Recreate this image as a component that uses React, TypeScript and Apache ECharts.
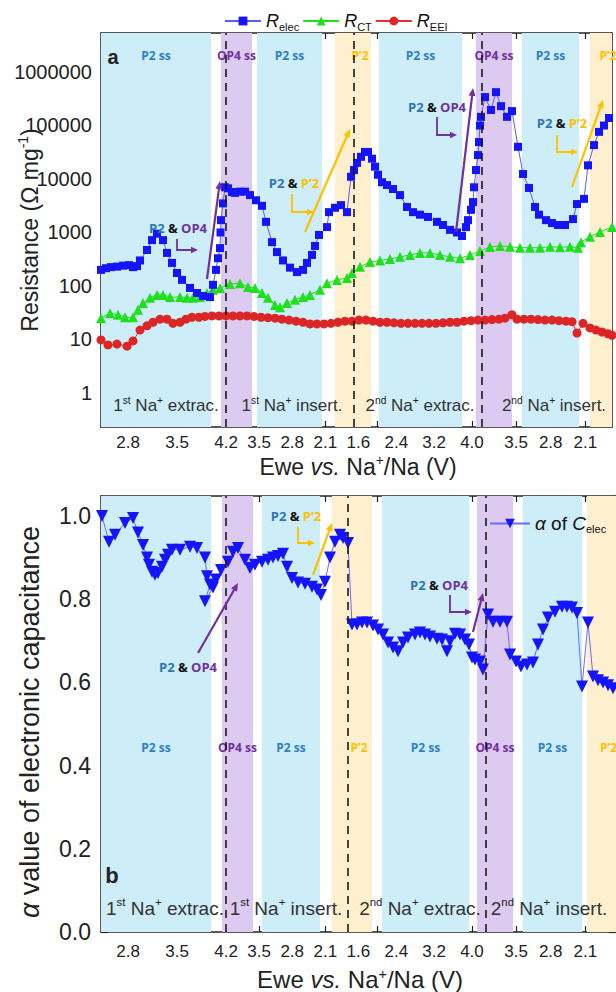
import React, { useEffect, useRef } from 'react';
import * as echarts from 'echarts';

const FONT = 'Arial, "Liberation Sans", Helvetica, sans-serif';
const BOLD_FONT = '"Open Sans", "Noto Sans", Arial, sans-serif';
const AXIS = '#222';

// ---------- x axis: four voltage sweeps laid end to end ----------
const segStartV = [2.414, 4.2, 1.5, 4.2];
const segScale = [70, 47.3, 47.3, 49.5];
const segOffset = [0, 125, 252.7, 380.4];
const toU = (seg: number, v: number) => segOffset[seg] + Math.abs(v - segStartV[seg]) * segScale[seg];

const tickVolts: [number, number][] = [
  [0, 2.45], [0, 2.8], [0, 3.15], [0, 3.5], [0, 3.85], [0, 4.2],
  [1, 3.85], [1, 3.5], [1, 3.15], [1, 2.8], [1, 2.45], [1, 2.1], [1, 1.75],
  [2, 1.6], [2, 2.0], [2, 2.4], [2, 2.8], [2, 3.2], [2, 3.6], [2, 4.0],
  [3, 3.85], [3, 3.5], [3, 3.15], [3, 2.8], [3, 2.45], [3, 2.1], [3, 1.75],
];
const labelVolts: [number, number][] = [
  [0, 2.8], [0, 3.5], [0, 4.2], [1, 3.5], [1, 2.8], [1, 2.1],
  [2, 1.6], [2, 2.4], [2, 3.2], [2, 4.0], [3, 3.5], [3, 2.8], [3, 2.1],
];

// ---------- panel a : resistances (progress units, Ω mg-1) ----------
const relecX = [0,5,10,16,22,28,32,36,39,46,51,56,62,66,71,76,81,89,96,102,109,112,115,117,119,119.5,120,122,124,127,131,134,139,144,149,155,161,165,171,176,182,189,196,202,206,211,214,218,226,228,234,240,246,250,253,256,260,264,267,271,274,277,281,286,292,299,306,312,319,327,336,342,349,356,361,365,367,370,372,373,375,377,378,379,380,384,390,395,400,406,411,417,422,428,434,438,445,451,457,464,472,476,483,487,493,498,503,508];
const relecY = [200,215,225,230,240,245,225,235,300,470,720,950,720,415,270,175,130,92,74,65,62,105,200,330,510,1000,1700,3500,7000,6700,5700,5500,5800,5800,5000,4000,3150,1580,660,430,300,220,182,200,270,380,560,900,1260,2400,2900,3250,2400,11000,14700,20000,26000,32000,32000,24000,17000,12000,8700,7700,6500,5000,3000,2400,2150,1950,1580,1380,1120,1000,860,1260,1700,2650,3700,7000,14700,28000,49000,100000,145000,340000,195000,420000,230000,145000,186000,40000,12400,6800,3000,2150,1700,1500,1380,1380,1780,3400,4250,18000,43000,76000,100000,138000];

const rctX = [0,9,17,24,32,37,42,49,56,62,69,79,86,92,99,106,112,119,129,139,147,154,161,167,174,179,186,194,202,209,219,226,236,246,251,259,269,279,289,299,309,319,329,339,349,359,369,379,389,399,409,419,429,439,449,459,469,477,480,489,499,511];
const rctY = [25,31,29,26,26,36,48,60,68,68,62,62,60,60,62,74,85,92,109,113,96,92,74,60,44,40,48,55,62,68,85,113,130,141,175,228,280,300,318,350,380,415,415,380,350,330,380,450,535,560,540,520,520,520,540,530,540,520,660,830,1020,1260];

const reeiX = [0,7,16,26,32,39,46,52,59,66,72,79,85,91,98,104,111,118,125,132,139,146,153,160,167,174,181,188,195,202,209,216,223,230,237,244,251,258,265,272,279,286,293,300,307,314,321,328,335,342,349,356,363,370,377,384,391,398,404,411,416,423,430,437,444,451,458,465,471,476,482,489,495,501,507,511];
const reeiY = [9.8,7.9,8.2,7.5,9.4,15,18,21,24,24,20,21,24,26,26,27,27.5,27.5,27.5,27.5,27.5,27.5,27,26,25.5,25,24,23,22,21,19.5,19.5,19.5,20,21,22,22,23,23,22,21,21,20.5,20,20,20,20,20,20,20.5,21,21,22,22.5,23,23,23.5,24,25,29,24,24,24,23.5,23,23,22.5,22,21.5,13.2,20,16.4,15,13.8,12.8,12];

// ---------- panel b : alpha of C_elec ----------
const alphaX = [1,8,14,24,32,37,42,46,48,51,54,57,61,64,67,71,79,89,96,104,106,109,104,112,115,120,127,132,137,144,149,154,161,167,172,177,182,186,191,197,204,211,216,220,224,229,234,239,242,247,251,256,261,266,272,277,282,287,292,297,302,307,314,319,324,329,336,341,346,349,354,359,364,368,371,374,379,382,387,392,399,406,409,415,420,426,432,437,442,447,454,461,466,471,476,481,487,492,497,502,507,512];
const alphaY = [1.0,0.938,0.955,0.983,0.995,0.96,0.93,0.90,0.883,0.866,0.859,0.863,0.878,0.895,0.907,0.919,0.919,0.926,0.923,0.90,0.855,0.835,0.795,0.828,0.847,0.87,0.89,0.914,0.923,0.895,0.875,0.883,0.89,0.895,0.90,0.904,0.909,0.878,0.851,0.84,0.837,0.83,0.823,0.81,0.842,0.90,0.938,0.955,0.947,0.935,0.739,0.739,0.744,0.744,0.737,0.727,0.715,0.696,0.684,0.675,0.696,0.708,0.715,0.72,0.715,0.71,0.705,0.703,0.675,0.699,0.717,0.715,0.703,0.691,0.66,0.655,0.65,0.631,0.763,0.746,0.746,0.746,0.667,0.65,0.638,0.643,0.648,0.691,0.727,0.756,0.77,0.782,0.782,0.78,0.767,0.59,0.744,0.614,0.605,0.60,0.593,0.586];

// ---------- tick values ----------
const resistanceTicks = [1, 10, 100, 1000, 10000, 100000, 1000000];
const alphaTicks = [0, 0.1, 0.2, 0.3, 0.4, 0.5, 0.6, 0.7, 0.8, 0.9, 1.0];
const alphaLabels = [0, 0.2, 0.4, 0.6, 0.8, 1.0];

// ---------- phase bands ----------
const bandKinds = ['P2', 'OP4', 'P2', 'P2p', 'P2', 'OP4', 'P2', 'P2p'];
const bandStartTop = [0, 120, 156, 234, 278, 375, 421, 489];
const bandEndTop = [110, 151, 221, 270, 361, 411, 478, 511];
const bandStartBot = [0, 121, 161, 231, 281, 376, 422, 486];
const bandEndBot = [110, 152, 219, 271, 368, 412, 481, 515];
const dashTop = [toU(0, 4.2), toU(1, 1.5), toU(2, 4.2)];
const dashBot = [125, 247, 385];

const BAND_COLOR: Record<string, string> = { P2: '#cdedf9', OP4: '#ddcaf1', P2p: '#fef0cf' };
const BAND_TEXT: Record<string, string> = { P2: 'P2 ss', OP4: 'OP4 ss', P2p: 'P\u20192' };
const BAND_TEXT_COLOR: Record<string, string> = { P2: '#2e7fc8', OP4: '#7030a0', P2p: '#ffc000' };

const BLUE_T = '#2e75b6';
const PURPLE = '#7030a0';
const ORANGE = '#ffc000';

function buildOption() {
  const tickU = tickVolts.map(([s, v]) => toU(s, v));
  const labelU = labelVolts.map(([s, v]) => toU(s, v));
  const fmtX = (val: number) => {
    const i = labelU.findIndex((u) => Math.abs(u - val) < 0.01);
    return i >= 0 ? labelVolts[i][1].toFixed(1) : '';
  };
  const minorLog: number[] = [];
  for (let k = -1; k <= 6; k++) for (let m = 1; m <= 9; m++) {
    const v = m * Math.pow(10, k);
    if (v >= 0.24 && v <= 5.3e6) minorLog.push(v);
  }

  const xAx = (grid: number, max: number, pos: string, labels: boolean, margin: number) => ({
    type: 'value', gridIndex: grid, min: 0, max, position: pos,
    axisLine: { show: true, onZero: false, lineStyle: { color: AXIS, width: 1.5 } },
    axisTick: { show: true, inside: true, length: 6, customValues: tickU, lineStyle: { color: AXIS, width: 1.2 } },
    axisLabel: labels
      ? { show: true, customValues: labelU, formatter: fmtX, fontSize: 17, lineHeight: 18, color: '#222', fontFamily: FONT, margin }
      : { show: false },
    splitLine: { show: false },
  });

  const bandData = (starts: number[], ends: number[], dist: number) =>
    bandKinds.map((k, i) => [
      {
        xAxis: starts[i],
        itemStyle: { color: BAND_COLOR[k] },
        label: {
          show: true, position: 'insideTop', distance: dist, formatter: BAND_TEXT[k],
          color: BAND_TEXT_COLOR[k], fontSize: 12, fontWeight: 'bold', fontFamily: BOLD_FONT,
          offset: [k === 'P2p' ? 7 : 0, 0],
        },
      },
      { xAxis: ends[i] },
    ]);

  const dashLine = (vals: number[]) => ({
    silent: true, symbol: 'none', label: { show: false },
    lineStyle: { type: [8, 6], color: '#1a1a1a', width: 1.6 },
    data: vals.map((u) => ({ xAxis: u })),
  });

  // ---------- graphic helpers ----------
  const rt = (size: number, extra: any = {}) => ({ fontSize: size, fontFamily: FONT, fill: '#222', lineHeight: Math.round(size * 1.2), ...extra });
  const sup = (size: number) => rt(size * 0.6, { verticalAlign: 'top', lineHeight: Math.round(size * 0.55) });
  const text = (x: number, y: number, t: string, rich: any, rotation = 0) => ({
    type: 'text', x, y, rotation, z: 50,
    style: { text: t, rich, align: 'center', verticalAlign: 'middle', textAlign: 'center', textVerticalAlign: 'middle' },
  });
  const phase = (x: number, y: number, ord: string, suf: string, word: string, size: number) =>
    text(x, y, `{n|${ord}}{u|${suf}}{n| Na}{u|+}{n| ${word}}`, { n: rt(size, { fill: '#333' }), u: sup(size) });

  const annRich = {
    b: rt(13, { fontFamily: BOLD_FONT, fontWeight: 'bold', fill: BLUE_T }),
    k: rt(13, { fontFamily: BOLD_FONT, fontWeight: 'bold', fill: '#111' }),
    p: rt(13, { fontFamily: BOLD_FONT, fontWeight: 'bold', fill: PURPLE }),
    o: rt(13, { fontFamily: BOLD_FONT, fontWeight: 'bold', fill: ORANGE }),
  };
  const ann = (x: number, y: number, second: 'p' | 'o') =>
    text(x, y, second === 'p' ? '{b|P2 }{k|& }{p|OP4}' : '{b|P2 }{k|& }{o|P\u20192}', annRich);

  const head = (x1: number, y1: number, x2: number, y2: number, color: string, L = 8, W = 3.5) => {
    const dx = x2 - x1, dy = y2 - y1, len = Math.hypot(dx, dy);
    const ux = dx / len, uy = dy / len;
    const bx = x2 - ux * L, by = y2 - uy * L;
    return {
      type: 'polygon', z: 50,
      shape: { points: [[x2, y2], [bx - uy * W, by + ux * W], [bx + uy * W, by - ux * W]] },
      style: { fill: color },
    };
  };
  const arrow = (x1: number, y1: number, x2: number, y2: number, color: string, w = 2.2) => {
    const len = Math.hypot(x2 - x1, y2 - y1);
    const ex = x2 - ((x2 - x1) / len) * 6, ey = y2 - ((y2 - y1) / len) * 6;
    return [
      { type: 'line', z: 50, shape: { x1, y1, x2: ex, y2: ey }, style: { stroke: color, lineWidth: w } },
      head(x1, y1, x2, y2, color),
    ];
  };
  const elbow = (x: number, y1: number, y2: number, x2: number, color: string) => [
    { type: 'polyline', z: 50, shape: { points: [[x, y1], [x, y2], [x2 - 5, y2]] }, style: { stroke: color, lineWidth: 1.8, fill: null } },
    head(x, y2, x2, y2, color, 7, 3.2),
  ];

  const graphics: any[] = [
    { type: 'text', x: 113, y: 57, z: 50, style: { text: 'a', fontSize: 20, fontWeight: 'bold', fontFamily: FONT, fill: '#222', align: 'center', verticalAlign: 'middle', textAlign: 'center', textVerticalAlign: 'middle' } },
    { type: 'text', x: 112, y: 875, z: 50, style: { text: 'b', fontSize: 22, fontWeight: 'bold', fontFamily: FONT, fill: '#222', align: 'center', verticalAlign: 'middle', textAlign: 'center', textVerticalAlign: 'middle' } },
    text(30, 230, '{t|Resistance (\u03A9 mg}{u|-1}{t|)}', { t: rt(23), u: sup(23) }, Math.PI / 2),
    text(30, 722, '{i|\u03B1}{t| value of electronic capacitance}', { t: rt(27), i: rt(27, { fontStyle: 'italic' }) }, Math.PI / 2),
    text(358, 467, '{t|Ewe }{i|vs.}{t| Na}{u|+}{t|/Na (V)}', { t: rt(23), i: rt(23, { fontStyle: 'italic' }), u: sup(23) }),
    text(360, 979, '{t|Ewe }{i|vs.}{t| Na}{u|+}{t|/Na (V)}', { t: rt(24, { lineHeight: 24 }), i: rt(24, { fontStyle: 'italic', lineHeight: 24 }), u: sup(24) }),
    phase(166, 405, '1', 'st', 'extrac.', 17),
    phase(292, 405, '1', 'st', 'insert.', 17),
    phase(420, 405, '2', 'nd', 'extrac.', 17),
    phase(554, 405, '2', 'nd', 'insert.', 17),
    phase(165, 908, '1', 'st', 'extrac.', 19),
    phase(286, 908, '1', 'st', 'insert.', 19),
    phase(420, 908, '2', 'nd', 'extrac.', 19),
    phase(549, 908, '2', 'nd', 'insert.', 19),
    // panel a annotations
    ann(178, 228, 'p'), ...elbow(177, 239, 250, 198, PURPLE), ...arrow(207, 279, 220, 181, PURPLE),
    ann(294, 183, 'o'), ...elbow(292, 194, 212, 314, ORANGE), ...arrow(305, 232, 350, 129, ORANGE),
    ann(437, 107, 'p'), ...elbow(437, 117, 135, 457, PURPLE), ...arrow(456, 232, 473, 88, PURPLE),
    ann(562, 123, 'o'), ...elbow(557, 135, 152, 578, ORANGE), ...arrow(572, 187, 603, 100, ORANGE),
    // panel b annotations
    ann(188, 667, 'p'), ...arrow(198, 653, 238, 583, PURPLE),
    ann(296, 516, 'o'), ...elbow(298, 527, 543, 315, ORANGE), ...arrow(313, 575, 332, 523, ORANGE),
    ann(439, 585, 'p'), ...elbow(450, 595, 612, 472, PURPLE), ...arrow(473, 632, 483, 593, PURPLE),
  ];

  const legendRich = {
    i: { fontStyle: 'italic', fontSize: 18, fontFamily: FONT, color: '#111', lineHeight: 22 },
    t: { fontSize: 19, fontFamily: FONT, color: '#111', lineHeight: 22 },
    s: { fontSize: 11, fontFamily: FONT, color: '#111', verticalAlign: 'bottom', lineHeight: 11 },
  };
  const legendText: Record<string, string> = {
    Relec: '{i|R}{s|elec}', RCT: '{i|R}{s|CT}', REEI: '{i|R}{s|EEI}', alpha: '{i|\u03B1}{t| of }{i|C}{s|elec}',
  };

  return {
    animation: false,
    backgroundColor: '#ffffff',
    textStyle: { fontFamily: FONT },
    grid: [
      { left: 101, top: 33, width: 511, height: 394, outerBoundsMode: 'none', containLabel: false },
      { left: 101, top: 496, width: 515, height: 436, outerBoundsMode: 'none', containLabel: false },
    ],
    legend: [
      {
        data: ['Relec', 'RCT', 'REEI'], left: 219, top: 7, itemWidth: 36, itemHeight: 11, itemGap: 3,
        selectedMode: false, formatter: (n: string) => legendText[n], textStyle: { rich: legendRich },
      },
      {
        data: ['alpha'], left: 484, top: 509, itemWidth: 40, itemHeight: 12, itemGap: 4,
        selectedMode: false, formatter: (n: string) => legendText[n],
        textStyle: { rich: { ...legendRich, i: { ...legendRich.i, fontSize: 19 } } },
      },
    ],
    xAxis: [
      xAx(0, 511, 'bottom', true, 6),
      xAx(0, 511, 'top', false, 0),
      xAx(1, 515, 'bottom', true, 10),
      xAx(1, 515, 'top', false, 0),
    ],
    yAxis: [
      {
        type: 'log', logBase: 10, gridIndex: 0, min: 0.231, max: 5.36e6, position: 'left',
        axisLine: { show: true, onZero: false, lineStyle: { color: AXIS, width: 1.5 } },
        axisTick: { show: true, inside: true, length: 7, customValues: resistanceTicks, lineStyle: { color: AXIS, width: 1.2 } },
        axisLabel: { customValues: resistanceTicks, formatter: (v: number) => String(Math.round(v)), fontSize: 20, color: '#222', fontFamily: FONT, margin: 9 },
        splitLine: { show: false },
      },
      {
        type: 'log', logBase: 10, gridIndex: 0, min: 0.231, max: 5.36e6, position: 'right',
        axisLine: { show: true, onZero: false, lineStyle: { color: AXIS, width: 1.5 } },
        axisTick: { show: true, inside: true, length: 5, customValues: minorLog, lineStyle: { color: AXIS, width: 1 } },
        axisLabel: { show: false },
        splitLine: { show: false },
      },
      {
        type: 'value', gridIndex: 1, min: 0, max: 1.048, position: 'left',
        axisLine: { show: true, onZero: false, lineStyle: { color: AXIS, width: 1.5 } },
        axisTick: { show: true, inside: true, length: 7, customValues: alphaTicks, lineStyle: { color: AXIS, width: 1.2 } },
        axisLabel: { customValues: alphaLabels, formatter: (v: number) => v.toFixed(1), fontSize: 23, color: '#222', fontFamily: FONT, margin: 10 },
        splitLine: { show: false },
      },
      {
        type: 'value', gridIndex: 1, min: 0, max: 1.048, position: 'right',
        axisLine: { show: true, onZero: false, lineStyle: { color: AXIS, width: 1.5 } },
        axisTick: { show: true, inside: true, length: 7, customValues: alphaTicks, lineStyle: { color: AXIS, width: 1.2 } },
        axisLabel: { show: false },
        splitLine: { show: false },
      },
    ],
    series: [
      {
        type: 'line', xAxisIndex: 0, yAxisIndex: 0, data: [], z: 1,
        markArea: { silent: true, data: bandData(bandStartTop, bandEndTop, 16) },
        markLine: dashLine(dashTop),
      },
      {
        type: 'line', xAxisIndex: 2, yAxisIndex: 2, data: [], z: 1,
        markArea: { silent: true, data: bandData(bandStartBot, bandEndBot, 245) },
        markLine: dashLine(dashBot),
      },
      {
        name: 'RCT', type: 'line', xAxisIndex: 0, yAxisIndex: 0, z: 3,
        symbol: 'triangle', symbolSize: 10,
        itemStyle: { color: '#1ee01e' }, lineStyle: { color: '#22dd22', width: 1 },
        data: rctX.map((x, i) => [x, rctY[i]]),
      },
      {
        name: 'REEI', type: 'line', xAxisIndex: 0, yAxisIndex: 0, z: 3,
        symbol: 'circle', symbolSize: 9,
        itemStyle: { color: '#dc2626' }, lineStyle: { color: '#e03030', width: 1 },
        data: reeiX.map((x, i) => [x, reeiY[i]]),
      },
      {
        name: 'Relec', type: 'line', xAxisIndex: 0, yAxisIndex: 0, z: 4,
        symbol: 'rect', symbolSize: 8,
        itemStyle: { color: '#1414ff' }, lineStyle: { color: '#5b5bff', width: 1 },
        data: relecX.map((x, i) => [x, relecY[i]]),
      },
      {
        name: 'alpha', type: 'line', xAxisIndex: 2, yAxisIndex: 2, z: 4,
        symbol: 'triangle', symbolRotate: 180, symbolSize: 12,
        itemStyle: { color: '#1414ff' }, lineStyle: { color: '#6b6bff', width: 1 },
        data: alphaX.map((x, i) => [x, alphaY[i]]),
      },
    ],
    graphic: { elements: graphics },
  };
}

export default function App() {
  const ref = useRef<HTMLDivElement>(null);
  useEffect(() => {
    if (!ref.current) return;
    const chart = echarts.init(ref.current, undefined, { renderer: 'svg' });
    chart.setOption(buildOption() as any);
    return () => chart.dispose();
  }, []);
  return (
    <div
      ref={ref}
      style={{ position: 'absolute', left: 0, top: 0, width: 616, height: 992, background: '#fff' }}
    />
  );
}
